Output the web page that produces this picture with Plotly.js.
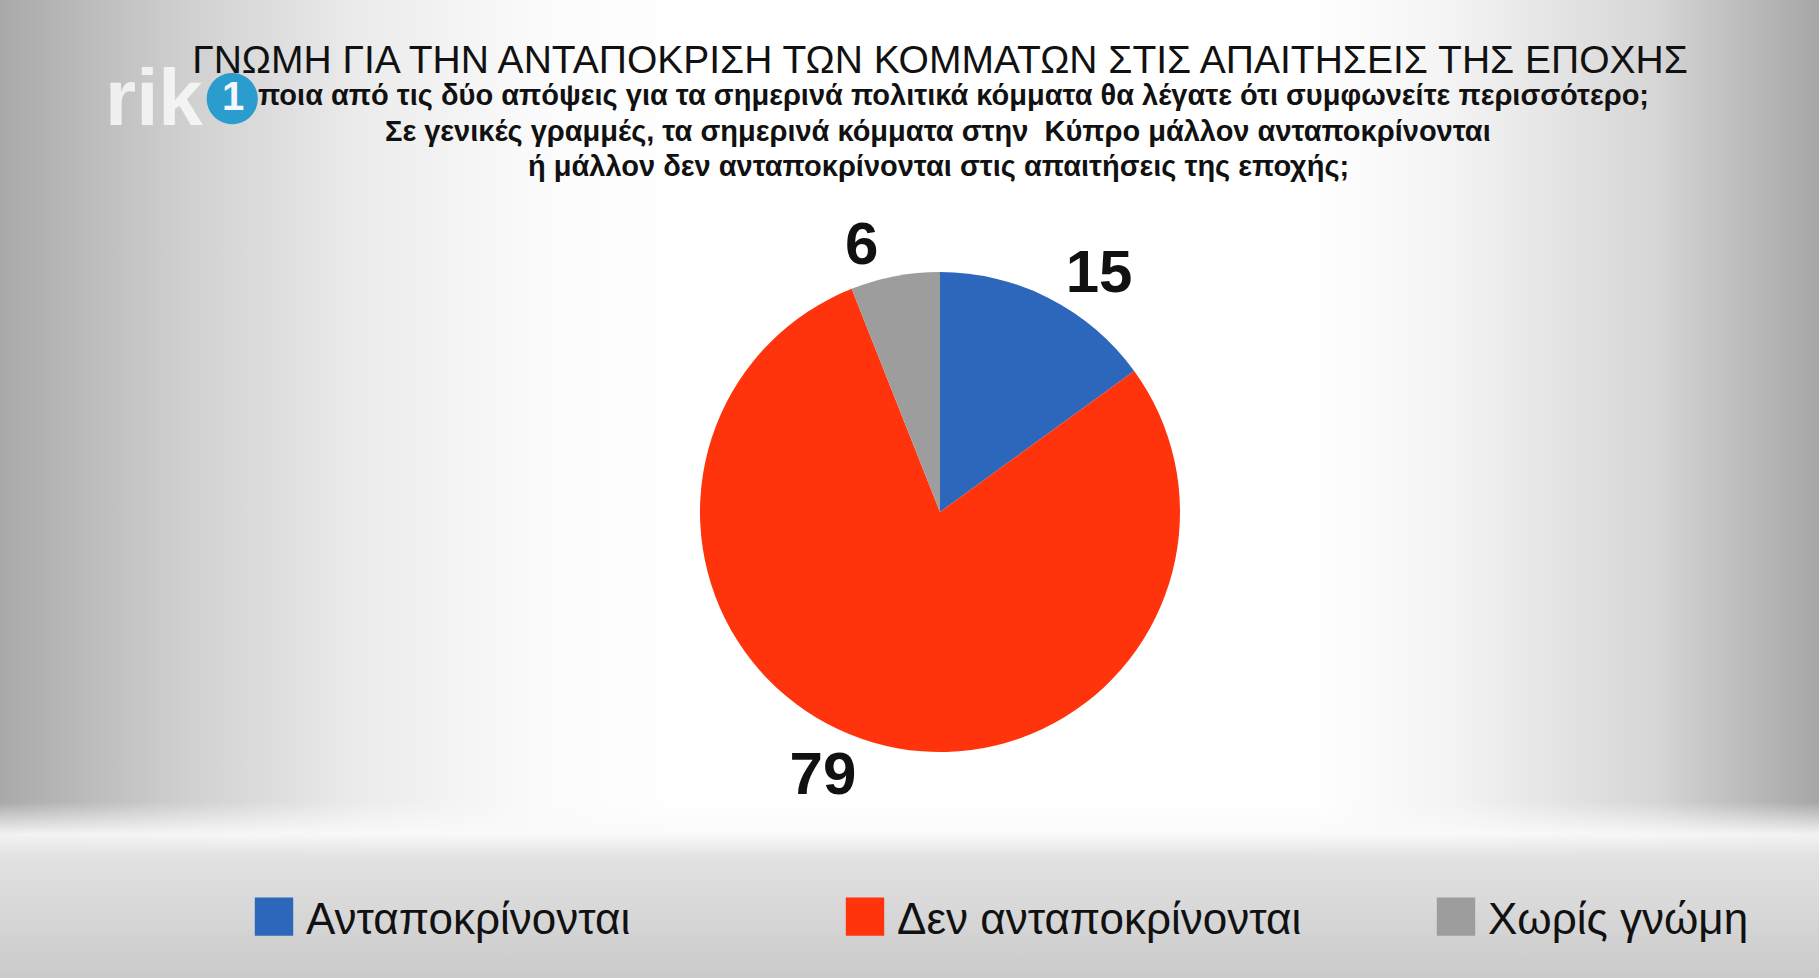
<!DOCTYPE html>
<html><head><meta charset="utf-8">
<script src="https://cdn.plot.ly/plotly-3.0.1.min.js"></script>
<style>
html,body{margin:0;padding:0;width:1819px;height:978px;overflow:hidden;}
body{
  background:
    linear-gradient(to bottom, rgba(235,235,235,0) 0%, rgba(235,235,235,0) 82%, rgba(250,250,250,0.9) 85.3%, rgba(226,226,226,1) 87.6%, rgba(214,214,214,1) 94%, rgba(202,202,202,1) 100%),
    linear-gradient(to right, #a9a9a9 0%, #cfcfcf 10%, #ececec 20%, #fbfbfb 30%, #ffffff 38%, #ffffff 72%, #f3f3f3 80%, #d6d6d6 91%, #a6a6a6 100%);
}
#chart{width:1819px;height:978px;}
</style></head><body><div id="chart"></div>
<script>
const categories = ['Ανταποκρίνονται', 'Δεν ανταποκρίνονται', 'Χωρίς γνώμη'];
const values = [15, 79, 6];
const sliceColors = ['#2c67bc', '#ff340c', '#9d9d9d'];
const titleText = 'ΓΝΩΜΗ ΓΙΑ ΤΗΝ ΑΝΤΑΠΟΚΡΙΣΗ ΤΩΝ ΚΟΜΜΑΤΩΝ ΣΤΙΣ ΑΠΑΙΤΗΣΕΙΣ ΤΗΣ ΕΠΟΧΗΣ';
const subtitleLines = [
  'Με ποια από τις δύο απόψεις για τα σημερινά πολιτικά κόμματα θα λέγατε ότι συμφωνείτε περισσότερο;',
  'Σε γενικές γραμμές, τα σημερινά κόμματα στην  Κύπρο μάλλον ανταποκρίνονται',
  'ή μάλλον δεν ανταποκρίνονται στις απαιτήσεις της εποχής;'
];
const logoText = 'rik';
const logoNumber = '1';

const W = 1819, H = 978;
const sans = '"Liberation Sans", Arial, sans-serif';

const subY = [95, 131, 166];
const subX = [930, 938, 938];
const annotations = subtitleLines.map((t, i) => ({
  text: '<b>' + t + '</b>', xref: 'paper', yref: 'paper',
  x: subX[i] / W, y: 1 - subY[i] / H, xanchor: 'center', yanchor: 'middle',
  showarrow: false, font: {family: sans, size: 29, color: '#111'}
}));
annotations.push({
  text: '<b>' + logoText + '</b>', xref: 'paper', yref: 'paper',
  x: 154 / W, y: 1 - 97 / H, xanchor: 'center', yanchor: 'middle', showarrow: false,
  font: {family: sans, size: 80, color: 'rgba(255,255,255,0.75)'}
});
annotations.push({
  text: '●', xref: 'paper', yref: 'paper',
  x: 232 / W, y: 1 - 93 / H, xanchor: 'center', yanchor: 'middle', showarrow: false,
  font: {family: '"DejaVu Sans", sans-serif', size: 67, color: '#2a9ccd'}
});
annotations.push({
  text: '<b>' + logoNumber + '</b>', xref: 'paper', yref: 'paper',
  x: 233 / W, y: 1 - 96 / H, xanchor: 'center', yanchor: 'middle', showarrow: false,
  font: {family: sans, size: 40, color: '#f4f8fa'}
});

const trace = {
  type: 'pie',
  labels: categories,
  values: values,
  sort: false,
  direction: 'clockwise',
  rotation: 0,
  marker: {colors: sliceColors, line: {width: 0}},
  textinfo: 'value',
  textposition: 'outside',
  textfont: {family: sans, size: 60, color: '#111', weight: 'bold'},
  domain: {x: [(940 - 240) / W, (940 + 240) / W], y: [1 - (512 + 240) / H, 1 - (512 - 240) / H]},
  hoverinfo: 'skip',
  automargin: false
};

const layout = {
  width: W, height: H,
  margin: {l: 0, r: 0, t: 0, b: 0, autoexpand: false},
  paper_bgcolor: 'rgba(0,0,0,0)',
  plot_bgcolor: 'rgba(0,0,0,0)',
  title: {
    text: titleText, x: 940 / W, xanchor: 'center', y: 1 - 59 / H, yanchor: 'middle',
    xref: 'paper', yref: 'container',
    font: {family: sans, size: 39, color: '#111'}
  },
  showlegend: true,
  legend: {
    orientation: 'h', x: 252 / W, xanchor: 'left', y: 1 - 917 / H, yanchor: 'middle',
    font: {family: sans, size: 44, color: '#111'},
    itemwidth: 44, entrywidth: 532, entrywidthmode: 'pixels',
    bgcolor: 'rgba(0,0,0,0)', traceorder: 'normal'
  },
  annotations: annotations
};

function fixLegend() {
  document.querySelectorAll('#chart .legendpoints path.legendpie').forEach(p => {
    p.setAttribute('transform', 'translate(22,0) scale(3.2)');
    p.style.strokeWidth = '0';
  });
}

Plotly.newPlot('chart', [trace], layout, {displayModeBar: false, staticPlot: true}).then(gd => {
  fixLegend();
  gd.on('plotly_afterplot', fixLegend);
});
</script></body></html>
